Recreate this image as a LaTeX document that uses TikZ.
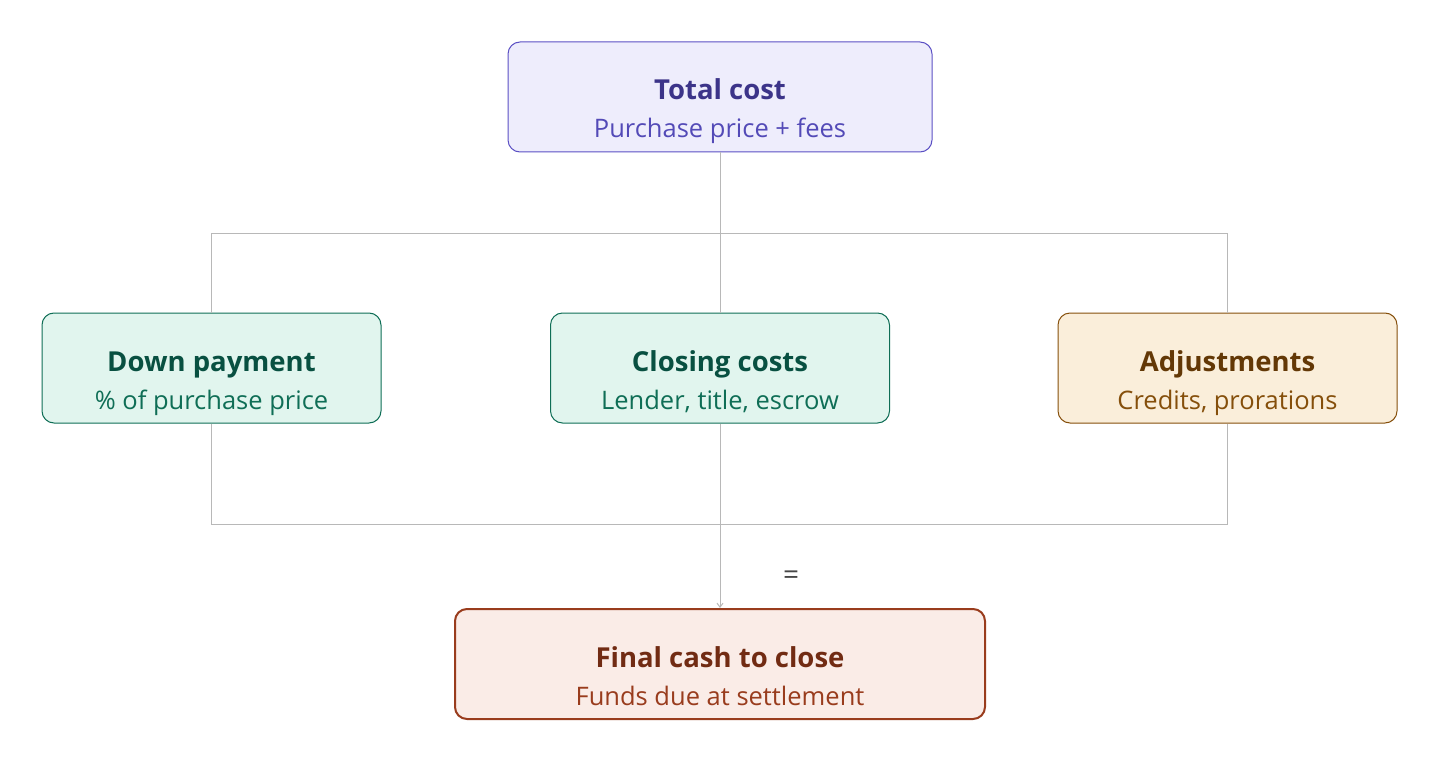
\documentclass[tikz,border=0pt]{standalone}
\usepackage{fontspec}
\setmainfont{Open Sans}
\usetikzlibrary{arrows.meta}
\definecolor{pfill}{HTML}{EEEDFC}\definecolor{pdraw}{HTML}{5B50C4}\definecolor{ptitle}{HTML}{3C3489}\definecolor{psub}{HTML}{534AB7}
\definecolor{gfill}{HTML}{E1F5EE}\definecolor{gdraw}{HTML}{0F6E56}\definecolor{gtitle}{HTML}{085041}\definecolor{gsub}{HTML}{0F6E56}
\definecolor{afill}{HTML}{FAEEDA}\definecolor{adraw}{HTML}{854F0B}\definecolor{atitle}{HTML}{633806}\definecolor{asub}{HTML}{854F0B}
\definecolor{cfill}{HTML}{FAECE7}\definecolor{cdraw}{HTML}{993C1D}\definecolor{ctitle}{HTML}{712B13}\definecolor{csub}{HTML}{993C1D}
\definecolor{linegray}{HTML}{B8B8B8}
\tikzset{
  box/.style={draw, rounded corners=12pt, line width=1pt, inner sep=0pt, minimum width=339pt, minimum height=110pt},
  ttl/.style={font=\fontsize{27.5}{32}\selectfont\bfseries, inner sep=0pt, anchor=base},
  sub/.style={font=\fontsize{25.5}{29}\selectfont, inner sep=0pt, anchor=base},
  conn/.style={draw=linegray, line width=1pt},
}
\begin{document}
\begin{tikzpicture}[x=1pt,y=-1pt]
\useasboundingbox (0,0) rectangle (1440,762);
\node[box, fill=pfill, draw=pdraw, minimum width=424pt] (tc) at (720,97) {};
\node[ttl, text=ptitle] (tct) at (720,100) {Total cost};
\node[sub, text=psub] (tcs) at (720,138) {Purchase price + fees};

\node[box, fill=gfill, draw=gdraw] (dp) at (211.5,368) {};
\node[ttl, text=gtitle] (dpt) at (211.5,371) {Down payment};
\node[sub, text=gsub] (dps) at (211.5,409) {\% of purchase price};

\node[box, fill=gfill, draw=gdraw] (cc) at (720,368) {};
\node[ttl, text=gtitle] (cct) at (720,371) {Closing costs};
\node[sub, text=gsub] (ccs) at (720,409) {Lender, title, escrow};

\node[box, fill=afill, draw=adraw] (adj) at (1227.5,368) {};
\node[ttl, text=atitle] (adjt) at (1227.5,371) {Adjustments};
\node[sub, text=asub] (adjs) at (1227.5,409) {Credits, prorations};

\node[box, fill=cfill, draw=cdraw, line width=2pt, minimum width=530pt] (fc) at (720,664) {};
\node[ttl, text=ctitle] (fct) at (720,667) {Final cash to close};
\node[sub, text=csub] (fcs) at (720,705) {Funds due at settlement};

\coordinate (jt) at (720,233);
\coordinate (jb) at (720,524);
\draw[conn] (tc.south) -- (jt);
\draw[conn] (dp.north) |- (jt);
\draw[conn] (adj.north) |- (jt);
\draw[conn] (jt) -- (cc.north);
\draw[conn] (dp.south) |- (jb);
\draw[conn] (adj.south) |- (jb);
\draw[conn] (cc.south) -- (jb);
\draw[conn, -{Straight Barb[length=4pt,width=6pt]}] (jb) -- (fc.north);
\node[font=\fontsize{28}{32}\selectfont, text=black!72, inner sep=0pt] (eq) at (791,578) {=};
\end{tikzpicture}
\end{document}
